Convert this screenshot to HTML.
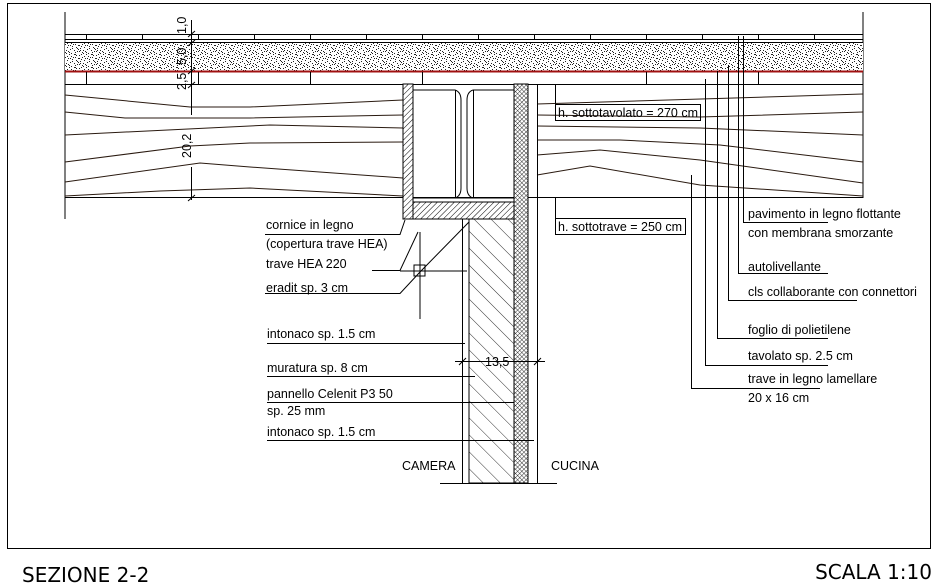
<!DOCTYPE html>
<html><head><meta charset="utf-8"><style>
body{margin:0;background:#fff}
svg{display:block}
text{font-family:"Liberation Sans",sans-serif;font-size:12.5px;fill:#000}
</style></head><body>
<svg width="938" height="586" viewBox="0 0 938 586" xmlns="http://www.w3.org/2000/svg">
<defs>
<pattern id="dots" width="17" height="13" patternUnits="userSpaceOnUse">
<rect width="17" height="13" fill="#fff"/>
<g fill="#222">
<rect x="1" y="2" width="1" height="1"/><rect x="4" y="7" width="1" height="1"/><rect x="8" y="3" width="1" height="1"/><rect x="12" y="9" width="1" height="1"/><rect x="15" y="1" width="1" height="1"/><rect x="6" y="11" width="1" height="1"/><rect x="10" y="6" width="2" height="1"/><rect x="2" y="10" width="1" height="1"/><rect x="14" y="5" width="1" height="1"/><rect x="7" y="0" width="1" height="1"/><rect x="3" y="4" width="1" height="1"/><rect x="11" y="12" width="1" height="1"/><rect x="16" y="8" width="1" height="1"/><rect x="9" y="9" width="1" height="1"/><rect x="5" y="5" width="1" height="1"/><rect x="13" y="2" width="1" height="1"/><rect x="0" y="6" width="1" height="1"/>
<rect x="2" y="6" width="1" height="1"/><rect x="6" y="2" width="2" height="1"/><rect x="9" y="12" width="1" height="1"/><rect x="13" y="7" width="1" height="1"/><rect x="15" y="11" width="1" height="1"/><rect x="11" y="3" width="1" height="1"/><rect x="0" y="12" width="1" height="1"/><rect x="4" y="9" width="1" height="1"/><rect x="8" y="8" width="1" height="1"/><rect x="14" y="0" width="1" height="1"/><rect x="1" y="0" width="1" height="1"/><rect x="16" y="4" width="1" height="1"/><rect x="7" y="5" width="1" height="1"/><rect x="12" y="11" width="1" height="1"/><rect x="3" y="1" width="1" height="1"/><rect x="10" y="10" width="1" height="1"/>
</g></pattern>
<pattern id="hatch" width="4" height="4" patternUnits="userSpaceOnUse" patternTransform="rotate(45)">
<rect width="4" height="4" fill="#fff"/><line x1="0" y1="0" x2="0" y2="4" stroke="#000" stroke-width="1"/></pattern>
<pattern id="cross" width="3" height="3" patternUnits="userSpaceOnUse" patternTransform="rotate(45)">
<rect width="3" height="3" fill="#fff"/><path d="M0 0V3M0 0H3" stroke="#000" stroke-width="0.8"/></pattern>
<pattern id="wall" width="12" height="12" patternUnits="userSpaceOnUse" patternTransform="rotate(-45)">
<rect width="12" height="12" fill="#fff"/><line x1="0" y1="0" x2="0" y2="12" stroke="#000" stroke-width="0.8"/></pattern>
</defs>
<g fill="none" stroke="#000" stroke-width="1">
<rect x="7.5" y="3.5" width="923" height="545"/>
<line x1="65" y1="12" x2="65" y2="219"/>
<line x1="863" y1="12" x2="863" y2="198"/>
<line x1="65" y1="34.5" x2="863" y2="34.5"/>
<line x1="65" y1="39.5" x2="863" y2="39.5"/>
<line x1="65" y1="42.5" x2="863" y2="42.5"/>
<path d="M86.5 34V39M142.5 34V39M198.5 34V39M254.5 34V39M310.5 34V39M366.5 34V39M422.5 34V39M478.5 34V39M534.5 34V39M590.5 34V39M646.5 34V39M702.5 34V39M758.5 34V39M814.5 34V39"/>
<rect x="65" y="43" width="798" height="28" fill="url(#dots)" stroke="none"/>
<line x1="65" y1="71.5" x2="863" y2="71.5" stroke="#a01010" stroke-width="2"/>
<line x1="65" y1="84.5" x2="863" y2="84.5"/>
<path d="M86.5 72V84M198.5 72V84M310.5 72V84M422.5 72V84M646.5 72V84M758.5 72V84"/>
<line x1="65" y1="197.5" x2="863" y2="197.5"/>
<g stroke="#2a1a10">
<path d="M65 95 L190 107 L250 107 L403 100"/>
<path d="M65 112 L125 118 L250 118 L403 115"/>
<path d="M65 135 L270 125 L403 128"/>
<path d="M65 162 L190 146 L250 143 L403 142"/>
<path d="M65 182 L200 163 L250 167 L403 178"/>
<path d="M65 196 L160 191 L250 188 L403 196"/>
<path d="M537 104 L863 94"/>
<path d="M537 115 L700 117 L863 112"/>
<path d="M537 126 L700 128 L863 135"/>
<path d="M537 140 L620 140 L720 145 L863 162"/>
<path d="M537 155 L600 150 L700 160 L863 183"/>
<path d="M537 175 L590 166 L700 185 L863 196"/>
</g>
<line x1="191.5" y1="20" x2="191.5" y2="115"/>
<line x1="191.5" y1="167" x2="191.5" y2="200"/>
<path d="M188 37L195 31M188 46L195 40M188 74L195 68M188 88L195 82M188 201L195 195"/>
<rect x="403" y="84" width="10" height="135" fill="url(#hatch)"/>
<rect x="514" y="84" width="14" height="399" fill="url(#cross)"/>
<rect x="413" y="202" width="101" height="17" fill="url(#hatch)"/>
<line x1="413" y1="198" x2="514" y2="198"/>
<line x1="537.5" y1="84" x2="537.5" y2="483"/>
<path d="M413.5 90H455Q461 92 461 100V188Q461 196 455 198M473 90H514M473 90Q467 92 467 100V188Q467 196 473 198M455.5 90V198M473.5 90V198"/>
<rect x="469" y="219" width="45" height="264" fill="url(#wall)"/>
<line x1="462.5" y1="219" x2="462.5" y2="483"/>
<line x1="440" y1="483.5" x2="557" y2="483.5"/>
<line x1="455" y1="361.5" x2="545" y2="361.5"/>
<path d="M459 365L466 358M534 365L541 358"/>
<path d="M265 234.5H400L405 220"/>
<path d="M372 270.5H400L418 232"/>
<path d="M265 293.5H400L420 272L469 222"/>
<rect x="414" y="265" width="11" height="11"/>
<line x1="420" y1="232" x2="420" y2="319"/>
<line x1="400" y1="271" x2="467" y2="271"/>
<line x1="267" y1="343.5" x2="465" y2="343.5"/>
<line x1="267" y1="376.5" x2="475" y2="376.5"/>
<line x1="267" y1="402.5" x2="514" y2="402.5"/>
<line x1="267" y1="440.5" x2="534" y2="440.5"/>
<line x1="555.5" y1="84" x2="555.5" y2="104"/>
<rect x="555.5" y="104.5" width="145" height="16"/>
<line x1="555.5" y1="198" x2="555.5" y2="218"/>
<rect x="555.5" y="218.5" width="130" height="16"/>
<path d="M743.5 36V222.5H828"/>
<path d="M738.5 36V273.5H828"/>
<path d="M728.5 65V300.5H857"/>
<path d="M717.5 71V338.5H828"/>
<path d="M705.5 79V365.5H828"/>
<path d="M691.5 175V388.5H820"/>
</g>
<g>
<text transform="translate(186,34) rotate(-90)">1,0</text>
<text transform="translate(186,65) rotate(-90)">5,0</text>
<text transform="translate(186,90) rotate(-90)">2,5</text>
<text transform="translate(191,158) rotate(-90)">20,2</text>
<text x="558" y="117">h. sottotavolato = 270 cm</text>
<text x="558" y="231">h. sottotrave = 250 cm</text>
<text x="748" y="218">pavimento in legno flottante</text>
<text x="748" y="237">con membrana smorzante</text>
<text x="748" y="271">autolivellante</text>
<text x="748" y="296">cls collaborante con connettori</text>
<text x="748" y="334">foglio di polietilene</text>
<text x="748" y="360">tavolato sp. 2.5 cm</text>
<text x="748" y="383">trave in legno lamellare</text>
<text x="748" y="402">20 x 16 cm</text>
<text x="266" y="229">cornice in legno</text>
<text x="266" y="248">(copertura trave HEA)</text>
<text x="266" y="268">trave HEA 220</text>
<text x="266" y="292">eradit sp. 3 cm</text>
<text x="267" y="338">intonaco sp. 1.5 cm</text>
<text x="267" y="372">muratura sp. 8 cm</text>
<text x="267" y="398">pannello Celenit P3 50</text>
<text x="267" y="415">sp. 25 mm</text>
<text x="267" y="436">intonaco sp. 1.5 cm</text>
<text x="485" y="366" font-size="11">13,5</text>
<text x="402" y="470">CAMERA</text>
<text x="551" y="470">CUCINA</text>
<text x="22" y="582" style="font-family:'DejaVu Sans',sans-serif;font-size:20px">SEZIONE 2-2</text>
<text x="932" y="579" text-anchor="end" style="font-family:'DejaVu Sans',sans-serif;font-size:20px">SCALA 1:10</text>
</g>
</svg>
</body></html>
